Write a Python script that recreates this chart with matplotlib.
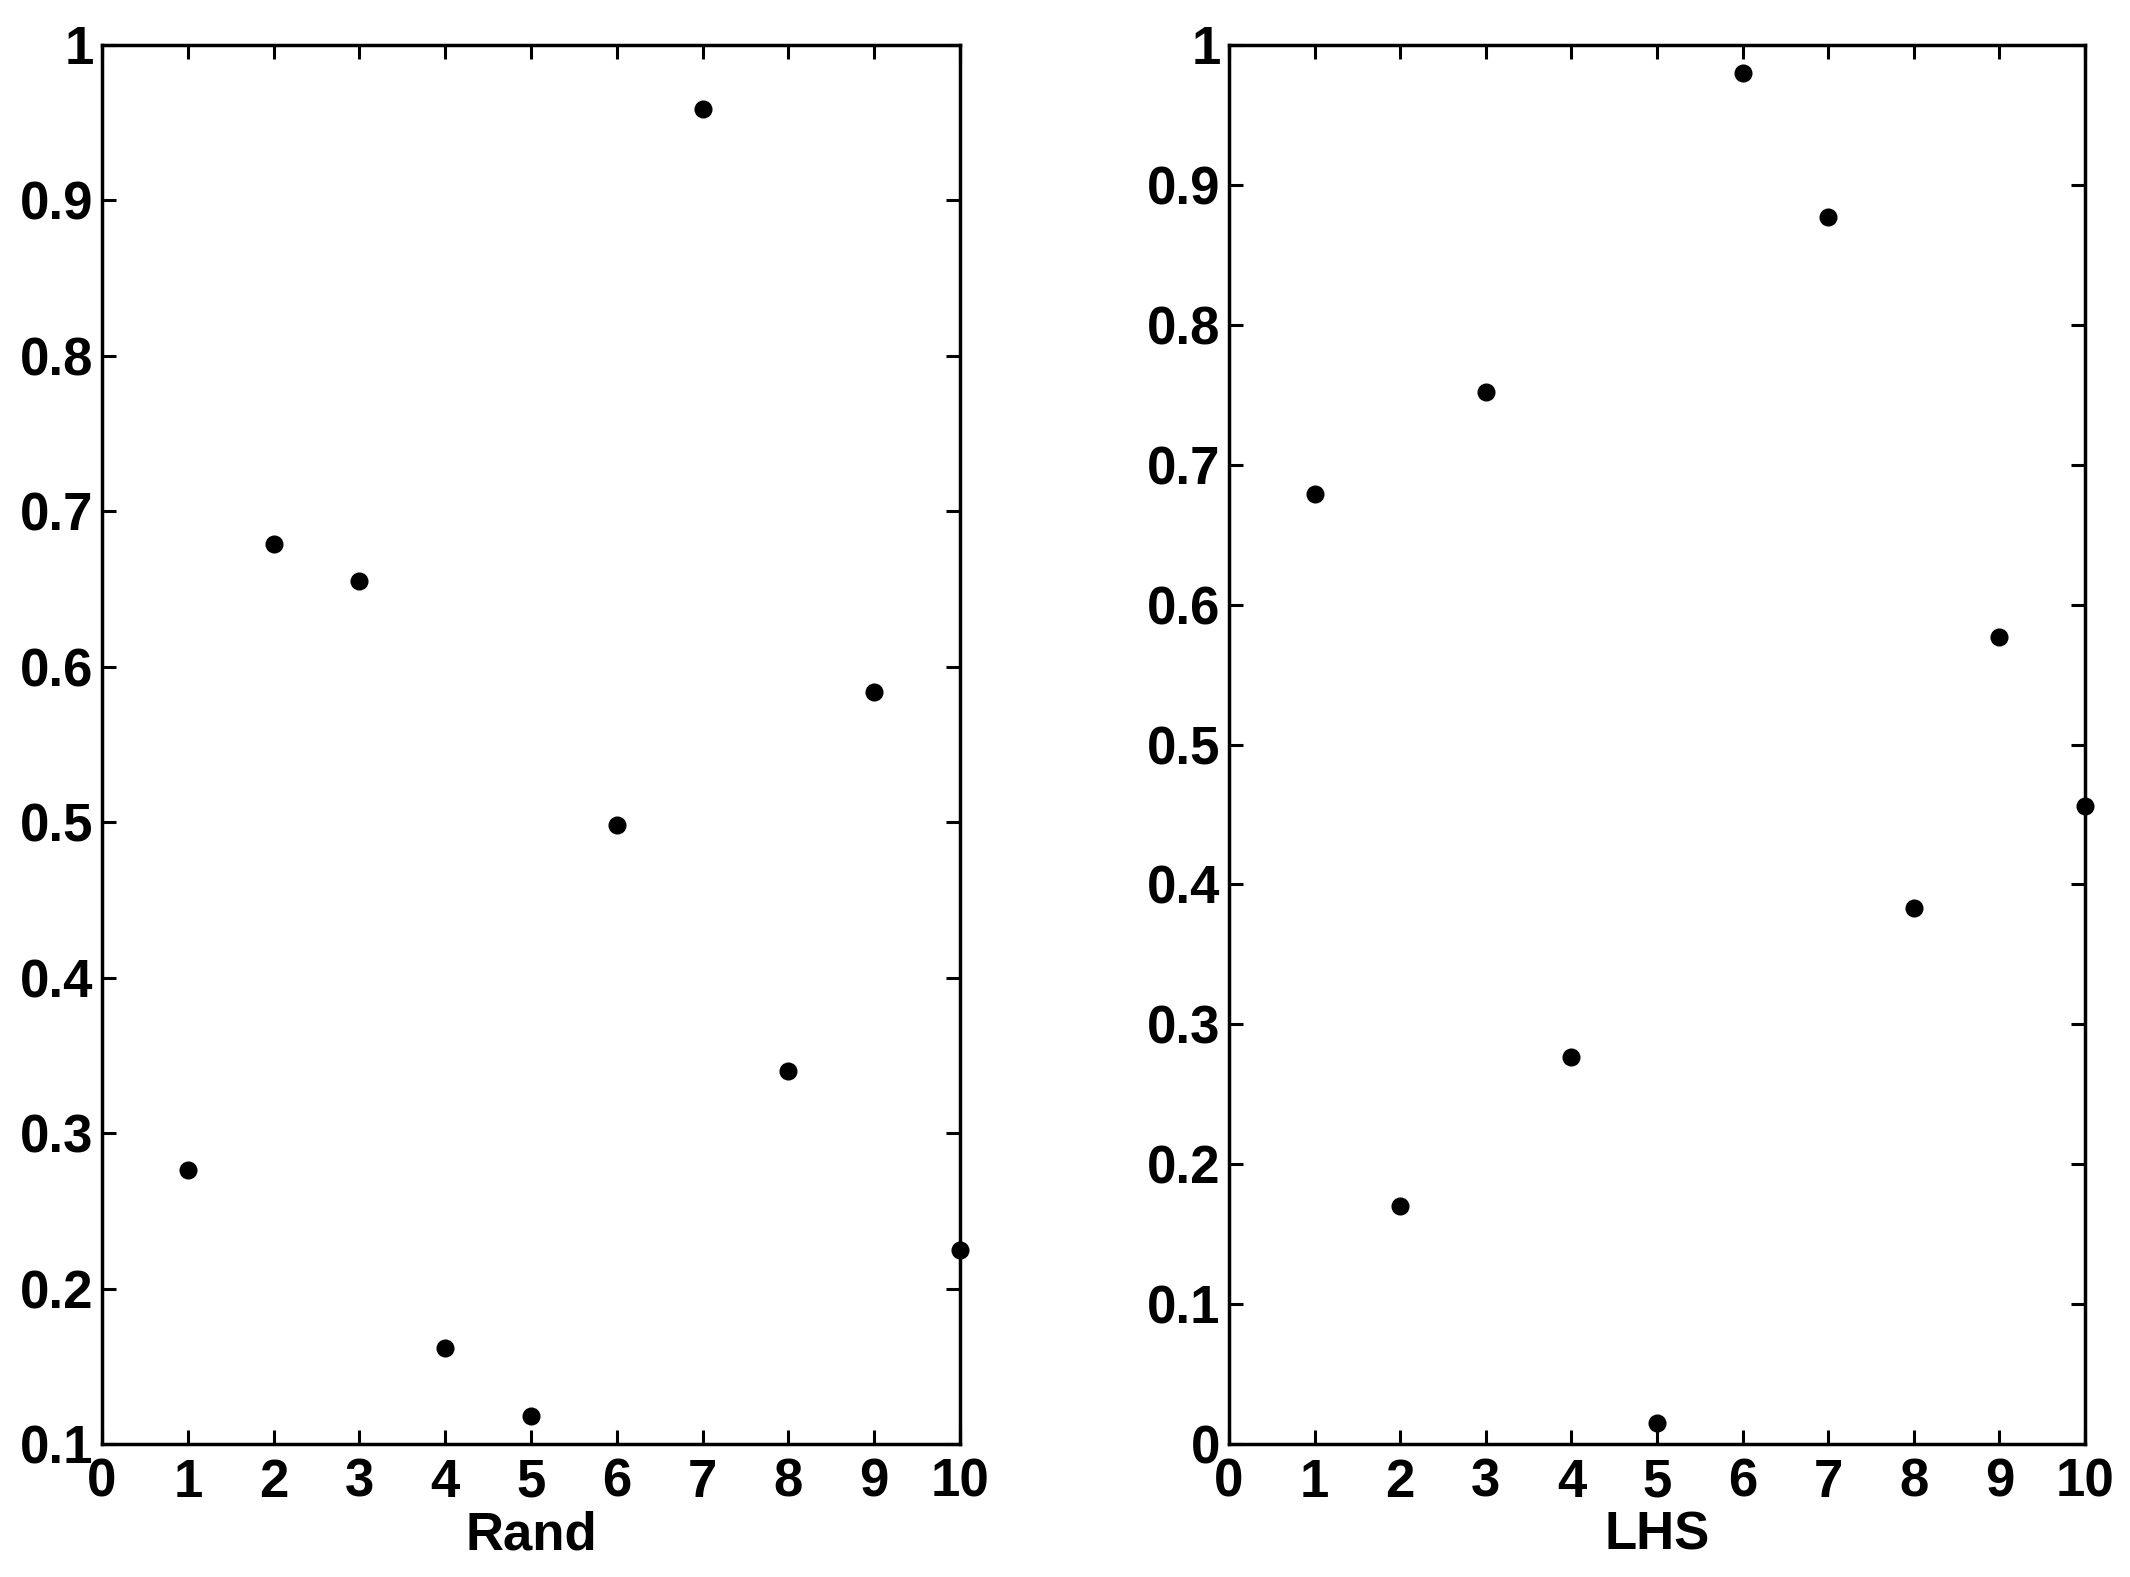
import matplotlib
matplotlib.use("Agg")
import matplotlib.pyplot as plt
from matplotlib import font_manager

names = {f.name for f in font_manager.fontManager.ttflist}
fam = ["Liberation Sans Narrow", "Liberation Sans", "DejaVu Sans"]
fam = [f for f in fam if f in names] or ["DejaVu Sans"]
plt.rcParams['font.family'] = fam
plt.rcParams['font.weight'] = 'bold'

x_idx = [1, 2, 3, 4, 5, 6, 7, 8, 9, 10]
rand_vals = [0.276, 0.679, 0.655, 0.162, 0.118, 0.498, 0.959, 0.340, 0.584, 0.225]
lhs_vals = [0.679, 0.170, 0.752, 0.277, 0.015, 0.980, 0.877, 0.383, 0.577, 0.456]
xticks = list(range(0, 11))
rand_yticks = [0.1, 0.2, 0.3, 0.4, 0.5, 0.6, 0.7, 0.8, 0.9, 1.0]
rand_ylabels = ["0.1", "0.2", "0.3", "0.4", "0.5", "0.6", "0.7", "0.8", "0.9", "1"]
lhs_yticks = [0, 0.1, 0.2, 0.3, 0.4, 0.5, 0.6, 0.7, 0.8, 0.9, 1.0]
lhs_ylabels = ["0", "0.1", "0.2", "0.3", "0.4", "0.5", "0.6", "0.7", "0.8", "0.9", "1"]

fig = plt.figure(figsize=(21.3, 15.77), dpi=100)
ax1 = fig.add_axes([0.0479, 0.0843, 0.4028, 0.8872])
ax2 = fig.add_axes([0.5770, 0.0843, 0.4019, 0.8872])

fs = 38
def style(ax, vals, yt, yl, ylim, xlabel):
    ax.plot(x_idx, vals, 'o', color='black', markersize=12, clip_on=False, zorder=5)
    ax.set_xlim(0, 10)
    ax.set_ylim(*ylim)
    ax.set_xticks(xticks)
    ax.set_xticklabels([str(t) for t in xticks], fontsize=fs, fontweight='bold')
    ax.set_yticks(yt)
    ax.set_yticklabels(yl, fontsize=fs, fontweight='bold')
    ax.tick_params(direction='in', length=10, width=2.2, top=True, right=True)
    ax.tick_params(axis='x', pad=10)
    ax.tick_params(axis='y', pad=6)
    for s in ax.spines.values():
        s.set_linewidth(2.5)
    ax.set_xlabel(xlabel, fontsize=fs, fontweight='bold', labelpad=2)

style(ax1, rand_vals, rand_yticks, rand_ylabels, (0.1, 1.0), "Rand")
style(ax2, lhs_vals, lhs_yticks, lhs_ylabels, (0, 1.0), "LHS")

fig.savefig("out.png", dpi=100, facecolor='white')
